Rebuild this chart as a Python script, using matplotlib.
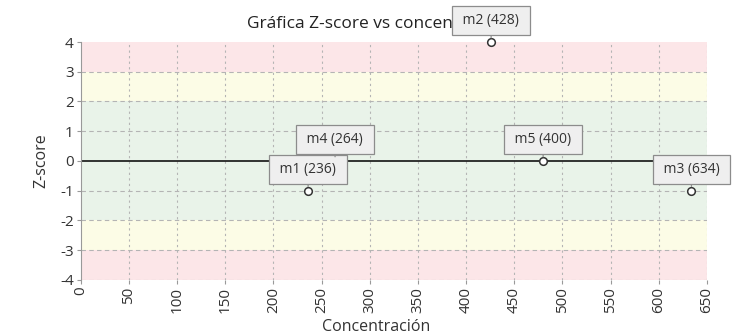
import matplotlib.pyplot as plt

# muestras: nombre, codigo mostrado, concentracion y z-score
names = ["m1", "m2", "m3", "m4", "m5"]
codes = [236, 428, 634, 264, 400]
conc = [236, 426, 634, 264, 480]
zscore = [-1, 4, -1, 0, 0]

x_ticks = list(range(0, 651, 50))
y_ticks = list(range(-4, 5))

# franjas de aceptacion (desde, hasta, color)
bands = [(-4, -3, "#fce6e8"), (-3, -2, "#fcfce6"), (-2, 2, "#e9f3e9"),
         (2, 3, "#fcfce6"), (3, 4, "#fce6e8")]

plt.rcParams['font.family'] = ['Open Sans', 'DejaVu Sans']

fig = plt.figure(figsize=(7.48, 3.36), dpi=100)
ax = fig.add_axes([0.108, 0.167, 0.837, 0.708])

for lo, hi, col in bands:
    ax.axhspan(lo, hi, color=col, lw=0, zorder=0)

# rejilla a trazos
for y in y_ticks[:-1]:
    if y != 0:
        ax.axhline(y, color="#b4b4b4", lw=0.8, ls=(0, (4, 3)), zorder=1)
for x in x_ticks[1:]:
    ax.axvline(x, color="#b4b4b4", lw=0.8, ls=(0, (2, 3)), zorder=1)
ax.axhline(0, color="black", lw=1.1, zorder=2)

ax.plot(conc, zscore, ls="none", marker="o", ms=5.5, mfc="white",
        mec="#333333", mew=1.1, zorder=5, clip_on=False)

for n, c, x, y in zip(names, codes, conc, zscore):
    ax.annotate(f" {n} ({c}) ", xy=(x, y), xytext=(0, 15.5), textcoords="offset points",
                ha="center", va="center", fontsize=10, color="#333333",
                bbox=dict(boxstyle="square,pad=0.5", fc="#efefef", ec="#8c8c8c", lw=0.9),
                arrowprops=dict(arrowstyle="-", color="#8c8c8c", lw=0.9, shrinkA=0, shrinkB=3),
                zorder=6, annotation_clip=False)

ax.set_xlim(0, 650)
ax.set_ylim(-4, 4)
ax.set_xticks(x_ticks)
ax.set_yticks(y_ticks)
ax.set_xticklabels([str(v) for v in x_ticks], rotation=90, fontsize=11, color="#333333")
ax.set_yticklabels([str(v) for v in y_ticks], fontsize=11, color="#333333")
ax.tick_params(axis="both", length=3, color="#999999", pad=2)

for s in ["top", "right", "bottom"]:
    ax.spines[s].set_visible(False)
ax.spines["left"].set_color("#999999")

ax.set_xlabel("Concentración", fontsize=11.5, color="#333333", labelpad=0)
ax.xaxis.set_label_coords(0.471, -0.165)
ax.set_ylabel("Z-score", fontsize=11.5, color="#333333", labelpad=8)
ax.text(0.476, 1.075, "Gráfica Z-score vs concentración", transform=ax.transAxes,
        ha="center", va="center", fontsize=12.5, color="#222222", zorder=3)

fig.savefig("out.png", dpi=100)
